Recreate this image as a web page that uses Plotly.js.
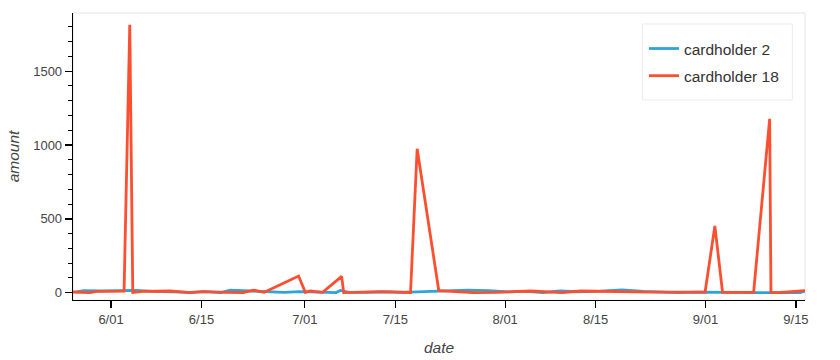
<!DOCTYPE html>
<html>
<head>
<meta charset="utf-8">
<script src="https://cdn.plot.ly/plotly-3.0.1.min.js"></script>
<style>
  html, body { margin: 0; padding: 0; background: #fff; }
  #chart { width: 840px; height: 360px; }
</style>
</head>
<body>
<div id="chart"></div>
<script>
// ---- data ----
const seriesNames = ["cardholder 2", "cardholder 18"];

const card2Dates = [
  "2018-05-26 12:00", "2018-05-27 18:00", "2018-05-30 08:00", "2018-06-02 10:00",
  "2018-06-04 20:00", "2018-06-07 14:00", "2018-06-10 09:00", "2018-06-13 06:00",
  "2018-06-15 12:00", "2018-06-18 00:00", "2018-06-19 10:00", "2018-06-21 20:00",
  "2018-06-24 12:00", "2018-06-27 18:00", "2018-06-30 06:00", "2018-07-02 14:00",
  "2018-07-05 20:00", "2018-07-06 12:00", "2018-07-07 20:00", "2018-07-10 08:00",
  "2018-07-13 18:00", "2018-07-16 04:00", "2018-07-19 12:00", "2018-07-22 20:00",
  "2018-07-26 04:00", "2018-07-29 10:00", "2018-08-01 14:00", "2018-08-04 06:00",
  "2018-08-06 20:00", "2018-08-09 12:00", "2018-08-12 04:00", "2018-08-15 18:00",
  "2018-08-19 02:00", "2018-08-22 10:00", "2018-08-25 06:00", "2018-08-27 20:00",
  "2018-08-30 12:00", "2018-09-02 06:00", "2018-09-05 18:00", "2018-09-09 02:00",
  "2018-09-12 06:00", "2018-09-14 20:00", "2018-09-15 16:00", "2018-09-16 09:00"
];
const card2Amounts = [
  5, 15, 12, 14,
  16, 10, 4, 2,
  8, 1, 17, 12,
  5, 3, 8, 4,
  1, 16, 3, 2,
  6, 3, 9, 11,
  18, 14, 6, 10,
  1, 12, 7, 11,
  19, 9, 3, 0.7,
  4, 1.5, 2, 1,
  2.5, 1, 0.5, 11
];

const card18Dates = [
  "2018-05-26 02:40", "2018-05-28 17:54", "2018-05-29 19:55", "2018-06-03 00:20",
  "2018-06-03 21:33", "2018-06-04 08:42", "2018-06-05 23:00", "2018-06-10 03:26",
  "2018-06-13 05:50", "2018-06-15 06:11", "2018-06-18 23:27", "2018-06-21 10:57",
  "2018-06-23 00:09", "2018-06-24 17:03", "2018-06-30 00:37", "2018-07-01 01:33",
  "2018-07-01 20:10", "2018-07-03 17:54", "2018-07-06 16:34", "2018-07-07 00:00",
  "2018-07-12 16:48", "2018-07-17 08:24", "2018-07-18 09:00", "2018-07-21 17:17",
  "2018-07-27 02:24", "2018-07-30 18:29", "2018-08-04 22:19", "2018-08-09 20:24",
  "2018-08-12 16:19", "2018-08-18 21:07", "2018-08-23 12:43", "2018-08-31 22:33",
  "2018-09-02 10:48", "2018-09-03 15:22", "2018-09-08 10:48", "2018-09-10 22:19",
  "2018-09-11 03:07", "2018-09-12 03:50", "2018-09-16 09:36"
];
const card18Amounts = [
  5, 1.5, 10, 11,
  1814, 2, 10, 12,
  1, 8, 3, 1,
  18, 3, 113, 3,
  12, 3, 111, 1,
  8, 2, 975, 15,
  1, 3, 12, 1,
  12, 5, 4, 5,
  452, 3, 3, 1178,
  3, 0.5, 15
];

const xTickVals = ["2018-06-01", "2018-06-15", "2018-07-01", "2018-07-15",
                   "2018-08-01", "2018-08-15", "2018-09-01", "2018-09-15"];
const yTickVals = [0, 500, 1000, 1500];

// ---- chart ----
const FONT = "Liberation Sans, Arial, Helvetica, sans-serif";
const colors = ["#30a2da", "#fc4f30"];

const traces = [
  { x: card2Dates, y: card2Amounts, name: seriesNames[0], type: "scatter", mode: "lines",
    line: { color: colors[0], width: 2.8 }, legendgroup: "a" },
  { x: card18Dates, y: card18Amounts, name: seriesNames[1], type: "scatter", mode: "lines",
    line: { color: colors[1], width: 2.8 }, legendgroup: "b" }
];

const layout = {
  width: 840, height: 360,
  margin: { l: 73, r: 35, t: 13, b: 60 },
  paper_bgcolor: "#fff", plot_bgcolor: "#fff",
  font: { family: FONT, size: 13, color: "#444" },
  showlegend: true,
  legend: {
    x: 0.780, y: 0.934, xanchor: "left", yanchor: "top",
    bgcolor: "rgba(0,0,0,0)", borderwidth: 0,
    font: { family: FONT, size: 15.5, color: "#333" },
    traceorder: "grouped", tracegroupgap: 4
  },
  xaxis: {
    type: "date",
    range: [card18Dates[0], card18Dates[card18Dates.length - 1]],
    tickvals: xTickVals, tickformat: "%-m/%d",
    ticks: "outside", ticklen: 7, tickcolor: "#000", tickwidth: 1.2,
    showline: true, linecolor: "#000", linewidth: 1.3,
    showgrid: false, zeroline: false,
    tickfont: { family: FONT, size: 13, color: "#444" },
    title: { text: "date", font: { family: FONT, size: 15.5, color: "#444", style: "italic" }, standoff: 16 }
  },
  yaxis: {
    range: [-49, 1894],
    tickvals: yTickVals,
    ticks: "outside", ticklen: 7, tickcolor: "#000", tickwidth: 1.2,
    minor: { dtick: 100, ticks: "outside", ticklen: 4, tickcolor: "#000", tickwidth: 1 },
    showline: true, linecolor: "#000", linewidth: 1.3,
    showgrid: false, zeroline: false,
    tickfont: { family: FONT, size: 13, color: "#444" },
    title: { text: "amount", font: { family: FONT, size: 15.5, color: "#444", style: "italic" }, standoff: 9 }
  },
  shapes: [
    { type: "rect", xref: "paper", yref: "paper", x0: 0, x1: 1, y0: 0, y1: 1,
      line: { color: "#e6e6e6", width: 1 }, layer: "below" },
    { type: "rect", xref: "paper", yref: "paper", x0: 0.778, x1: 0.9827, y0: 0.697, y1: 0.9617,
      line: { color: "#ebebeb", width: 1 }, fillcolor: "#fff", layer: "below" }
  ]
};

Plotly.newPlot("chart", traces, layout, { displayModeBar: false, staticPlot: true });
</script>
</body>
</html>
